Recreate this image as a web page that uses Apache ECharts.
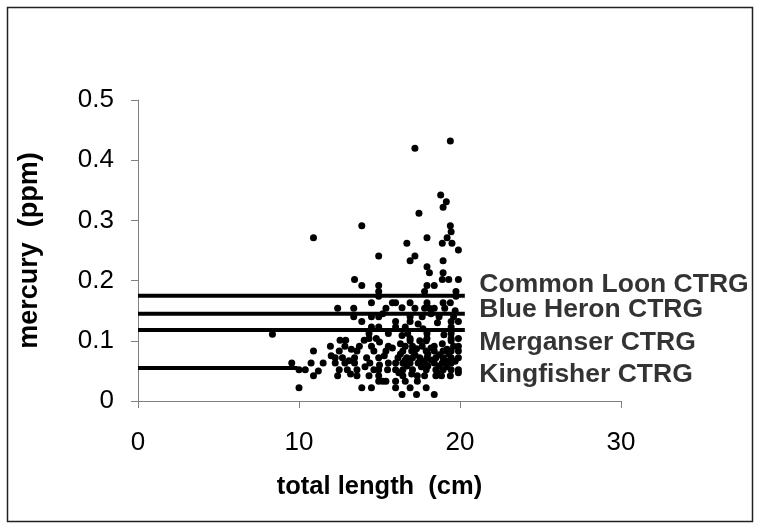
<!DOCTYPE html>
<html>
<head>
<meta charset="utf-8">
<script src="https://cdn.jsdelivr.net/npm/echarts@6/dist/echarts.min.js"></script>
<style>
html,body{margin:0;padding:0;background:#fff;}
#chart{width:760px;height:529px;}
</style>
</head>
<body>
<div id="chart"></div>
<script>
// ---- data ----
const xTicks = [0, 10, 20, 30];
const yTicks = [0, 0.1, 0.2, 0.3, 0.4, 0.5];

// fish samples: [total length (cm), mercury (ppm)]
const samples = [
  [17.2,0.42],[19.4,0.432],[18.8,0.342],[19.15,0.331],[18.95,0.322],[17.45,0.312],
  [13.9,0.291],[19.4,0.291],[19.45,0.281],[10.9,0.271],[17.95,0.271],[19.2,0.271],
  [16.7,0.262],[18.9,0.262],[19.5,0.262],[19.9,0.251],[14.95,0.241],[17.2,0.241],
  [16.9,0.233],[18.95,0.233],[17.95,0.223],[18.1,0.213],[18.95,0.213],
  [13.45,0.202],[18.9,0.202],[19.3,0.202],[19.9,0.202],
  [13.9,0.192],[14.95,0.192],[17.95,0.192],[18.4,0.192],
  [14.95,0.182],[17.8,0.182],[19.75,0.182],[14.95,0.174],[19.75,0.174],
  [14.5,0.163],[15.8,0.163],[16.0,0.163],[16.9,0.163],[17.95,0.163],[18.95,0.163],[19.4,0.163],
  [12.4,0.154],[13.4,0.154],[15.4,0.154],[17.2,0.154],[17.8,0.154],[18.1,0.154],[18.4,0.154],[19.05,0.154],
  [16.4,0.155],[19.7,0.15],[15.2,0.145],[18.2,0.145],
  [13.4,0.14],[14.5,0.14],[14.95,0.14],[16.9,0.14],[17.65,0.14],[18.7,0.14],[19.6,0.14],
  [13.9,0.132],[16.0,0.132],[16.9,0.132],[19.45,0.132],[19.9,0.132],[18.6,0.13],[17.4,0.128],
  [14.5,0.123],[14.95,0.123],[16.0,0.123],[16.6,0.123],[19.45,0.123],[17.7,0.12],
  [8.35,0.111],[14.35,0.112],[15.55,0.112],[16.75,0.112],[17.95,0.112],[19.45,0.112],[19.0,0.11],
  [16.4,0.109],
  [14.35,0.104],[14.8,0.104],[16.9,0.104],[17.95,0.104],[19.45,0.104],[19.9,0.104],
  [12.55,0.101],[12.9,0.101],[14.05,0.101],[16.9,0.1],[17.5,0.1],[17.9,0.1],[19.45,0.1],
  [15.0,0.098],[16.3,0.095],[18.9,0.095],
  [11.95,0.091],[12.85,0.091],[13.75,0.091],[14.5,0.091],[15.55,0.091],[16.6,0.091],[17.05,0.091],
  [17.65,0.091],[18.4,0.091],[19.6,0.091],[19.9,0.091],
  [13.25,0.086],[17.3,0.087],[18.2,0.088],[19.2,0.086],[15.8,0.088],
  [10.9,0.083],[12.5,0.083],[13.6,0.083],[14.65,0.083],[15.4,0.083],[16.45,0.083],[17.0,0.083],
  [17.9,0.083],[18.4,0.083],[18.95,0.083],[19.45,0.083],[19.9,0.083],
  [16.3,0.078],[17.2,0.077],[18.0,0.078],[18.7,0.077],[19.3,0.078],
  [12.25,0.072],[12.7,0.072],[13.45,0.072],[14.2,0.072],[14.95,0.072],[16.15,0.072],[16.7,0.072],
  [17.05,0.072],[17.5,0.072],[17.95,0.072],[18.5,0.072],[18.95,0.072],[19.45,0.072],[19.9,0.072],
  [12.0,0.075],[15.3,0.075],
  [13.1,0.067],[16.6,0.068],[17.6,0.067],[18.2,0.068],[19.1,0.067],[19.7,0.066],
  [9.55,0.063],[10.75,0.063],[11.5,0.063],[12.25,0.063],[12.85,0.063],[13.45,0.063],[14.4,0.063],
  [15.55,0.063],[16.0,0.063],[16.45,0.063],[16.9,0.063],[17.4,0.063],[17.8,0.063],[18.4,0.063],
  [18.9,0.063],[19.45,0.063],[15.0,0.06],
  [16.7,0.058],[17.6,0.057],[18.7,0.058],[18.0,0.058],[19.2,0.057],[14.1,0.057],
  [10.0,0.052],[10.39,0.052],[12.5,0.052],[13.0,0.052],[13.6,0.052],[14.65,0.052],[14.95,0.052],
  [15.5,0.052],[16.0,0.052],[16.45,0.052],[17.05,0.052],[17.9,0.052],[18.5,0.052],[18.95,0.052],
  [19.45,0.052],[19.9,0.052],[11.2,0.05],
  [16.2,0.047],[17.0,0.045],[18.6,0.047],[13.2,0.045],
  [10.9,0.042],[12.4,0.042],[13.6,0.042],[14.35,0.042],[14.95,0.042],[16.45,0.042],[17.35,0.042],
  [17.8,0.042],[18.5,0.042],[18.85,0.042],[19.4,0.042],[19.9,0.047],
  [14.95,0.033],[15.2,0.033],[15.4,0.033],[16.0,0.033],[16.6,0.033],[17.35,0.033],
  [10.0,0.022],[13.9,0.022],[14.5,0.022],[16.0,0.022],[16.9,0.022],[17.9,0.022],
  [16.4,0.011],[17.3,0.011],[18.4,0.011]
];

// consumer threshold reference guidelines (CTRG)
const ctrgNames = ["Common Loon CTRG", "Blue Heron CTRG", "Merganser CTRG", "Kingfisher CTRG"];
const ctrgValues = [0.175, 0.145, 0.118, 0.055];
const ctrgLineEnd = [20.3, 20.3, 20.3, 9.9];
// label anchors (data units)
const ctrgLabelX = [21.2, 21.2, 21.2, 21.2];
const ctrgLabelY = [0.1935, 0.152, 0.0963, 0.0432];

// ---- chart ----
const chart = echarts.init(document.getElementById('chart'), null, {renderer: 'canvas'});
const FONT = '"Liberation Sans", Arial, sans-serif';

const series = [];
ctrgValues.forEach((v, i) => {
  series.push({
    type: 'line',
    data: [[0, v], [ctrgLineEnd[i], v]],
    symbol: 'none',
    silent: true,
    lineStyle: {color: '#000', width: 4},
    z: 2
  });
});
series.push({
  type: 'scatter',
  data: samples,
  symbol: 'circle',
  symbolSize: 7,
  itemStyle: {color: '#000', opacity: 1},
  z: 3
});
series.push({
  type: 'scatter',
  data: ctrgNames.map((n, i) => ({name: n, value: [ctrgLabelX[i], ctrgLabelY[i]]})),
  symbolSize: 0,
  silent: true,
  label: {
    show: true,
    position: 'inside',
    align: 'left',
    verticalAlign: 'middle',
    formatter: p => p.name,
    fontFamily: FONT,
    fontWeight: 'bold',
    fontSize: 26.5,
    color: '#000'
  },
  z: 4
});

const tickFont = {fontFamily: FONT, fontSize: 26, color: '#000'};

chart.setOption({
  animation: false,
  backgroundColor: '#fff',
  graphic: [{
    type: 'rect',
    shape: {x: 7.5, y: 7.5, width: 745, height: 514},
    style: {fill: 'none', stroke: '#222', lineWidth: 1.5},
    silent: true
  }],
  grid: {left: 138, top: 100, width: 483, height: 301, containLabel: false},
  xAxis: {
    type: 'value',
    min: xTicks[0], max: xTicks[xTicks.length - 1], interval: 10,
    name: 'total length  (cm)',
    nameLocation: 'middle',
    nameGap: 73,
    nameTextStyle: {fontFamily: FONT, fontWeight: 'bold', fontSize: 25.5, color: '#000'},
    axisLine: {show: true, lineStyle: {color: '#808080', width: 1}},
    axisTick: {show: true, length: 7, lineStyle: {color: '#808080'}},
    axisLabel: Object.assign({margin: 29}, tickFont),
    splitLine: {show: false}
  },
  yAxis: {
    type: 'value',
    min: yTicks[0], max: yTicks[yTicks.length - 1], interval: 0.1,
    name: 'mercury  (ppm)',
    nameLocation: 'middle',
    nameGap: 95,
    nameRotate: 90,
    nameTextStyle: {fontFamily: FONT, fontWeight: 'bold', fontSize: 27, color: '#000'},
    axisLine: {show: true, onZero: false, lineStyle: {color: '#808080', width: 1}},
    axisTick: {show: true, length: 7, lineStyle: {color: '#808080'}},
    axisLabel: Object.assign({margin: 24, formatter: v => String(Math.round(v * 10) / 10)}, tickFont),
    splitLine: {show: false}
  },
  series: series
});
</script>
</body>
</html>
